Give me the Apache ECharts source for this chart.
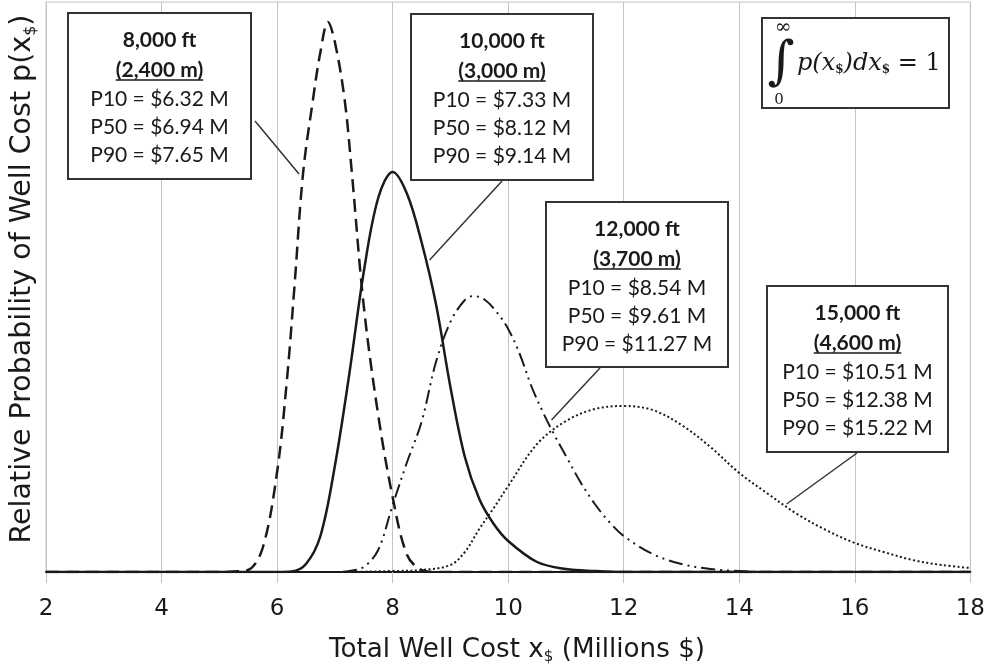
<!DOCTYPE html>
<html>
<head>
<meta charset="utf-8">
<script src="https://cdn.jsdelivr.net/npm/echarts@6/dist/echarts.min.js"></script>
<style>
  html, body { margin: 0; padding: 0; background: #fff; }
  #chart { width: 988px; height: 668px; }
</style>
</head>
<body>
<div id="chart"></div>
<script>
// curves: [cost in $M, relative probability]
const depth8000 = [
    [2, 0], [5, 0], [5.25, 0.5], [5.5, 2], [5.75, 24], [6, 100], [6.17, 192], [6.3, 285],
    [6.45, 399], [6.62, 472], [6.75, 520], [6.88, 550], [7, 530], [7.17, 472], [7.29, 402],
    [7.5, 266], [7.75, 157], [8, 75], [8.25, 17], [8.5, 2], [8.75, 0], [18, 0]
]
const depth10000 = [
    [2, 0], [6, 0], [6.25, 0.5], [6.5, 8], [6.75, 36], [7, 106], [7.25, 198], [7.5, 300],
    [7.75, 374], [8, 400], [8.25, 378], [8.5, 330], [8.75, 268], [9, 185], [9.25, 115],
    [9.5, 73], [9.75, 48], [10, 31], [10.5, 10], [11, 3], [11.5, 1], [12, 0], [18, 0]
]
const depth12000 = [
    [2, 0], [7, 0], [7.25, 1], [7.5, 5], [7.75, 22], [8, 67], [8.25, 110], [8.5, 150],
    [8.75, 210], [9, 250], [9.25, 272], [9.4, 276], [9.6, 272], [9.8, 260], [10, 243],
    [10.2, 218], [10.4, 186], [10.6, 160], [10.8, 137], [11, 116], [11.25, 90], [11.5, 68],
    [11.75, 50], [12, 36], [12.5, 18], [13, 8], [13.5, 3], [14, 1], [14.5, 0], [18, 0]
]
const depth15000 = [
    [2, 0], [7, 0], [8, 1], [8.5, 2], [9, 7], [9.25, 20], [9.5, 43], [9.75, 64], [10, 86],
    [10.5, 128], [11, 151], [11.5, 163], [12, 166], [12.5, 162], [13, 147], [13.5, 125],
    [14, 99], [14.5, 78], [15, 58], [15.5, 42], [16, 29], [16.5, 20], [17, 12], [17.5, 7],
    [18, 4]
]

// annotation texts
const depthFt = ['8,000 ft', '10,000 ft', '12,000 ft', '15,000 ft']
const depthM = ['(2,400 m)', '(3,000 m)', '(3,700 m)', '(4,600 m)']
const p10 = ['P10 = $6.32 M', 'P10 = $7.33 M', 'P10 = $8.54 M', 'P10 = $10.51 M']
const p50 = ['P50 = $6.94 M', 'P50 = $8.12 M', 'P50 = $9.61 M', 'P50 = $12.38 M']
const p90 = ['P90 = $7.65 M', 'P90 = $9.14 M', 'P90 = $11.27 M', 'P90 = $15.22 M']
// where each leader line touches its curve (data coords)
const leaderTo = [[6.38, 398], [8.64, 312], [10.75, 152], [14.82, 68]]

// box layout (pixels) and leader start
const boxes = [
    { x: 68, y: 13, w: 183, h: 166, from: [255, 121] },
    { x: 411, y: 14, w: 182, h: 166, from: [502, 181] },
    { x: 546, y: 202, w: 182, h: 165, from: [600, 368] },
    { x: 767, y: 286, w: 181, h: 166, from: [857, 453] }
]

const ink = '#1a1a1a'
const boxFont = 'Lato, "Noto Sans", sans-serif'
const axisFont = '"DejaVu Sans", sans-serif'

const chart = echarts.init(document.getElementById('chart'))

function curve(name, data, width, type) {
    return {
        name: name,
        type: 'line',
        data: data,
        smooth: 0.35,
        showSymbol: false,
        silent: true,
        lineStyle: { color: ink, width: width, type: type },
        z: 3
    }
}

chart.setOption({
    animation: false,
    grid: {
        left: 46, right: 17, top: 2, bottom: 96,
        show: true, borderColor: '#c4c4c4', borderWidth: 1
    },
    xAxis: {
        type: 'value',
        min: 2, max: 18, interval: 2,
        axisLine: { lineStyle: { color: ink, width: 2 } },
        axisTick: { length: 11, lineStyle: { color: '#c4c4c4', width: 1 } },
        axisLabel: { margin: 26, fontFamily: axisFont, fontSize: 23, color: ink },
        splitLine: { show: true, lineStyle: { color: '#c4c4c4', width: 1 } }
    },
    yAxis: {
        type: 'value',
        min: 0, max: 570,
        axisLine: { show: false },
        axisTick: { show: false },
        axisLabel: { show: false },
        splitLine: { show: false }
    },
    series: [
        curve('8,000 ft', depth8000, 2.5, [13, 7]),
        curve('10,000 ft', depth10000, 2.5, 'solid'),
        curve('12,000 ft', depth12000, 2, [14, 5, 2, 5, 2, 5]),
        curve('15,000 ft', depth15000, 2, [2, 2.5])
    ]
})

const subStyle = (size, pad) => ({ fontFamily: axisFont, fontSize: size, fill: ink, padding: [pad, 0, 0, 0] })

// axis titles
const graphics = [
    {
        type: 'text', z: 12, x: 517, y: 650,
        style: {
            text: '{t|Total Well Cost x}{s|$}{t| (Millions $)}',
            align: 'center', verticalAlign: 'middle',
            rich: {
                t: { fontFamily: axisFont, fontSize: 26.2, fill: ink },
                s: subStyle(15, 14)
            }
        }
    },
    {
        type: 'text', z: 12, x: 23, y: 279, rotation: Math.PI / 2,
        style: {
            text: '{t|Relative Probability of Well Cost p(x}{s|$}{t|)}',
            align: 'center', verticalAlign: 'middle',
            rich: {
                t: { fontFamily: axisFont, fontSize: 28.5, fill: ink },
                s: subStyle(16, 15)
            }
        }
    }
]

// underline width for the metric line
const measure = document.createElement('canvas').getContext('2d')
measure.font = 'bold 21px ' + boxFont

boxes.forEach((b, i) => {
    const cx = b.x + b.w / 2
    const lineY = [b.y + 27, b.y + 57, b.y + 86, b.y + 114, b.y + 142]
    const end = chart.convertToPixel('grid', leaderTo[i])
    graphics.push({
        type: 'line', z: 10,
        shape: { x1: b.from[0], y1: b.from[1], x2: end[0], y2: end[1] },
        style: { stroke: '#333', lineWidth: 1.5 }
    })
    graphics.push({
        type: 'rect', z: 11,
        shape: { x: b.x, y: b.y, width: b.w, height: b.h },
        style: { fill: '#fff', stroke: '#333', lineWidth: 2 }
    })
    const lines = [depthFt[i], depthM[i], p10[i], p50[i], p90[i]]
    lines.forEach((t, k) => {
        graphics.push({
            type: 'text', z: 12,
            x: cx, y: lineY[k],
            style: {
                text: t, align: 'center', verticalAlign: 'middle',
                font: (k < 2 ? 'bold ' : '') + '21px ' + boxFont,
                fill: ink
            }
        })
    })
    const uw = measure.measureText(depthM[i]).width
    graphics.push({
        type: 'line', z: 12,
        shape: { x1: cx - uw / 2, y1: lineY[1] + 10, x2: cx + uw / 2, y2: lineY[1] + 10 },
        style: { stroke: ink, lineWidth: 1.5 }
    })
})

// normalisation box
const mathFont = '"DejaVu Serif", "Liberation Serif", serif'
graphics.push(
    {
        type: 'rect', z: 11,
        shape: { x: 762, y: 18, width: 187, height: 90 },
        style: { fill: '#fff', stroke: '#333', lineWidth: 2 }
    },
    {
        type: 'text', z: 12, x: 783, y: 28,
        style: { text: '∞', align: 'center', verticalAlign: 'middle', font: '20px ' + mathFont, fill: ink }
    },
    {
        type: 'text', z: 12, x: 781, y: 64,
        style: { text: '∫', align: 'center', verticalAlign: 'middle', font: '52px ' + mathFont, fill: ink }
    },
    {
        type: 'text', z: 12, x: 779, y: 100,
        style: { text: '0', align: 'center', verticalAlign: 'middle', font: '15px ' + mathFont, fill: ink }
    },
    {
        type: 'text', z: 12, x: 797, y: 64,
        style: {
            text: '{i|p(x}{s|$}{i|)dx}{s|$}{n| = 1}',
            align: 'left', verticalAlign: 'middle',
            rich: {
                i: { font: 'italic 24px ' + mathFont, fill: ink },
                s: { font: 'bold 12px ' + mathFont, fill: ink, padding: [12, 0, 0, 0] },
                n: { font: '24px ' + mathFont, fill: ink }
            }
        }
    }
)

chart.setOption({ graphic: graphics })
</script>
</body>
</html>
